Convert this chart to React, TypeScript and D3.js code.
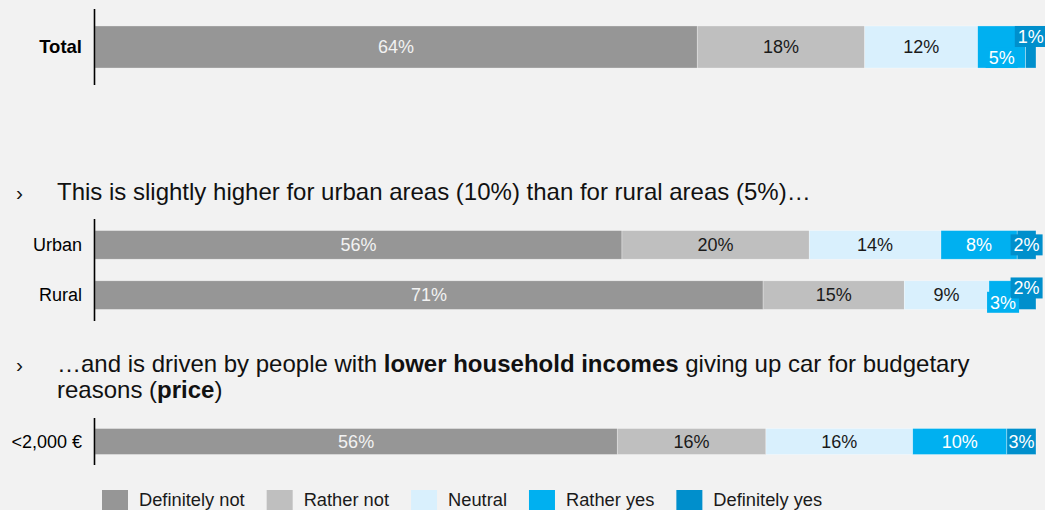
import { useMemo } from "react";
import * as d3 from "d3";

// Survey answer scale
const categories = ["Definitely not", "Rather not", "Neutral", "Rather yes", "Definitely yes"];
const categoryColors = ["#969696", "#bfbfbf", "#d9f0fd", "#00b0f0", "#008fcc"];
const labelColors = ["#f2f2f2", "#1a1a1a", "#1a1a1a", "#ffffff", "#ffffff"];

// Rows per block (shares in %)
const totalRows = ["Total"];
const totalValues = [[64, 17.8, 12, 5.1, 1.1]];
const areaRows = ["Urban", "Rural"];
const areaValues = [
  [56, 19.9, 14, 8.1, 2],
  [71, 15, 9, 3, 2],
];
const incomeRows = ["<2,000 €"];
const incomeValues = [[55.5, 15.8, 15.6, 10, 3.1]];

const W = 1045;
const H = 510;
const FONT = '"Liberation Sans", Arial, sans-serif';
const BAR_FONT = 18;

const measureCtx = document.createElement("canvas").getContext("2d");
function textWidth(s: string, size: number, weight = "normal") {
  if (!measureCtx) return s.length * size * 0.55;
  measureCtx.font = `${weight} ${size}px ${FONT}`;
  return measureCtx.measureText(s).width;
}

const xScale = d3.scaleLinear().domain([0, 100]).range([95, 1036]);

interface BlockProps {
  rows: string[];
  values: number[][];
  y0: number;
  y1: number;
  bold?: boolean;
}

function BarBlock({ rows, values, y0, y1, bold = false }: BlockProps) {
  const yScale = d3.scaleBand<string>().domain(rows).range([y0, y1]).paddingInner(0.43).paddingOuter(0.23);
  const bh = yScale.bandwidth();

  const stack = d3
    .stack<number[]>()
    .keys(categories.map((_, i) => String(i)))
    .value((d, key) => d[+key]);
  const series = stack(values);

  return (
    <g>
      {rows.map((row, r) => {
        const top = yScale(row)!;
        const cy = top + bh / 2;
        const segs = series.map((s, i) => {
          const [a, b] = s[r];
          const sx0 = xScale(a);
          const sx1 = xScale(b);
          const text = `${Math.round(values[r][i])}%`;
          const w = textWidth(text, BAR_FONT);
          return { i, sx0, sx1, text, w, cx: (sx0 + sx1) / 2, narrow: w > sx1 - sx0, dy: 0, boxed: false };
        });
        segs.forEach((s) => (s.boxed = s.narrow));
        // small last segment: label goes in a box, the one before it drops down if they collide
        const last = segs[segs.length - 1];
        const prev = segs[segs.length - 2];
        if (last.narrow && prev.cx + prev.w / 2 + 6 > last.cx - (last.w + 6) / 2) {
          last.dy = -0.25 * bh;
          prev.dy = 0.25 * bh;
          prev.boxed = true;
        }
        return (
          <g key={row}>
            <text
              x={82}
              y={cy}
              dy="0.35em"
              textAnchor="end"
              fontSize={bold ? 18.5 : 18}
              fontWeight={bold ? "bold" : "normal"}
              fill="#000"
            >
              {row}
            </text>
            {segs.map((s) => (
              <rect
                key={s.i}
                x={s.sx0}
                y={top}
                width={s.sx1 - s.sx0}
                height={bh}
                fill={categoryColors[s.i]}
                stroke="#ffffff"
                strokeOpacity={0.5}
                strokeWidth={0.6}
              />
            ))}
            {segs.map((s) => (
              <g key={`l${s.i}`}>
                {s.boxed && (
                  <rect
                    x={s.cx - (s.w + 6) / 2}
                    y={cy + s.dy - 10.5}
                    width={s.w + 6}
                    height={21}
                    fill={categoryColors[s.i]}
                  />
                )}
                <text
                  x={s.cx}
                  y={cy + s.dy}
                  dy="0.35em"
                  textAnchor="middle"
                  fontSize={BAR_FONT}
                  fill={labelColors[s.i]}
                >
                  {s.text}
                </text>
              </g>
            ))}
          </g>
        );
      })}
      <line x1={94.5} x2={94.5} y1={y0} y2={y1} stroke="#000" strokeWidth={1.6} />
    </g>
  );
}

function Legend() {
  const size = 18.3;
  const items = useMemo(() => {
    let x = 102;
    return categories.map((c, i) => {
      const w = textWidth(c, size);
      const item = { c, i, x };
      x += 26 + 11 + w + 22;
      return item;
    });
  }, []);
  return (
    <g>
      {items.map((it) => (
        <g key={it.c}>
          <rect x={it.x} y={490} width={26} height={24} fill={categoryColors[it.i]} />
          <text x={it.x + 37} y={506} fontSize={size} fill="#1a1a1a">
            {it.c}
          </text>
        </g>
      ))}
    </g>
  );
}

export default function App() {
  const headSize = 24;
  return (
    <svg
      width={W}
      height={H}
      viewBox={`0 0 ${W} ${H}`}
      style={{ position: "fixed", left: 0, top: 0, display: "block" }}
      fontFamily={FONT}
    >
      <rect x={0} y={0} width={W} height={H} fill="#f2f2f2" />

      <BarBlock rows={totalRows} values={totalValues} y0={9} y1={85} bold />

      <g fontSize={headSize} fill="#111">
        <text x={16} y={200} fontSize={21}>›</text>
        <text x={57} y={200}>
          This is slightly higher for urban areas (10%) than for rural areas (5%)…
        </text>
      </g>

      <BarBlock rows={areaRows} values={areaValues} y0={219} y1={321} />

      <g fontSize={headSize} fill="#111">
        <text x={16} y={372} fontSize={21}>›</text>
        <text x={57} y={372}>
          …and is driven by people with <tspan fontWeight="bold">lower household incomes</tspan> giving up car
          for budgetary
        </text>
        <text x={57} y={398}>
          reasons (<tspan fontWeight="bold">price</tspan>)
        </text>
      </g>

      <BarBlock rows={incomeRows} values={incomeValues} y0={418} y1={465} />

      <Legend />
    </svg>
  );
}
